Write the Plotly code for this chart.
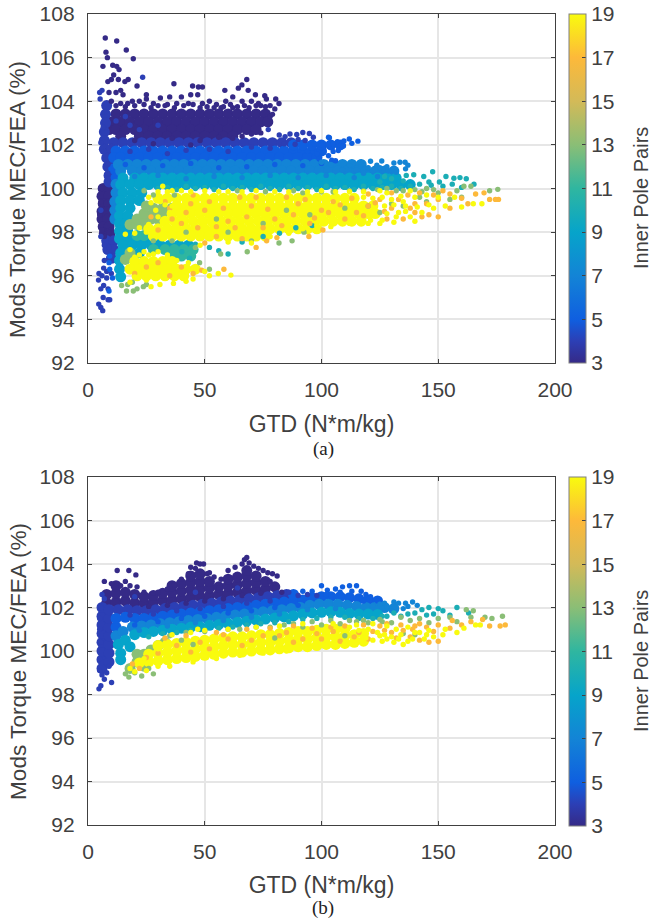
import plotly.graph_objects as go

POLE_TICKS = [3, 5, 7, 9, 11, 13, 15, 17, 19]
X_TICKS = [0, 50, 100, 150, 200]
Y_TICKS = [92, 94, 96, 98, 100, 102, 104, 106, 108]

# ---------- panel (a): dense body of each pole-pair band, (y, [x...]) rows
A3_BODY = [(103.42,[12,16,20,24,28,32,36,40,44,48,52,56,60,64,68,72,76]),(103.05,[10,14,18,22,26,30,34,38,42,46,50,54,58,62,66,70,74,77]),
 (102.7,[9,12,16,20,24,28,32,36,40,44,48,52,56,60,64,68,72]),(102.4,[14,22,26,30,34,38,42,46,50,54,58,62]),
 (100.0,[6.5,9]),(99.65,[6,9]),(99.3,[6.5,9]),(98.95,[6,8.5]),(98.6,[6,8.5]),(98.25,[6.5,9]),(97.95,[7,9.5])]
A4_BODY = [(102.1,[11,15,19,23,27,31,35,39,43,47,51,55,59,63,67,71,75,79,83,87]),(103.8,[8]),(103.4,[7.5]),(103,[7.5]),(102.6,[7]),(102.2,[7]),(101.8,[7,10]),
 (101.4,[8,11]),(101,[8.5,11]),(100.6,[9,11.5]),(100.3,[9,12]),(97.6,[8,11]),(97.2,[8.5,11]),(96.8,[10])]
A5_BODY = [(101.72,[12,16,20,24,28,32,36,40,44,48,52,56,60,64,68,72,76,80,84,88,92,96,100]),(101.42,[11,14,18,22,26,30,34,38,42,46,50,54,58,62,66,70,74,78,82,86,90,94,98]),
 (102.0,[88,92,96,100,104,108]),(100.9,[11]),(100.5,[12])]
A7_BODY = [(101.1,[13,17,21,25,29,33,37,41,45,49,53,57,61,65,69,73,77,81,85,89,93,97,101,105,109,113,117]),
 (100.8,[14,19,23,27,31,35,39,43,47,51,55,59,63,67,71,75,79,83,87,91,95,99,103,107,111,115,119,123,127,131]),(100.2,[12]),(99.8,[12]),(99.4,[11.5]),(99,[11.5]),(98.6,[11.5])]
A9_BODY = [(100.48,[15,20,24,28,32,36,40,44,48,52,56,60,64,68,72,76,80,84,88,92,96,100,104,108,112,116,120,124,128,132]),
 (100.18,[14,18,22,26,30,34,38,42,46,50,54,58,62,66,70,74,78,82,86,90,94,98,102,106,110,114,118,122,126,130,134,138]),
 (99.8,[15,19,23]),(99.45,[14,18,22]),(99.1,[14,18]),(98.75,[13.5,17]),(98.4,[13.5,16]),(98.05,[13.5,17]),(97.7,[13.5,17,21,25,29]),(97.4,[15,19,23,27,31,35,39,43]),(97.05,[14,18,22]),(96.7,[13.5]),(96.3,[13.5]),(95.95,[14])]
A11_BODY = [(97.2,[28,33,37,41,45]),(97.85,[21,24]),(96.9,[36,40,44])]
A13_BODY = [(98.35,[18,21,24]),(98.6,[21,24,27,30]),(98.85,[24,28,32]),(99.1,[28,32,36]),(99.2,[25]),(96.75,[16]),(97.05,[18])]
A19_BODY = [(99.55,[30,34,38,42,46,50,54,58,62,66,70,74,78,82,86,90,94,98,102,106,110,114]),
 (99.2,[38,42,46,50,54,58,62,66,70,74,78,82,86,90,94,98,102,106,110,114,118,122]),
 (98.85,[36,40,44,48,52,56,60,64,68,72,76,80,84,88,92,96,100,104,108,112,116,120,123]),
 (98.5,[33,37,41,45,49,53,57,61,65,69,73,77,81,85,89,93,97,101,105,109,113,117]),
 (98.15,[26,30,34,38,42,46,50,54,58,62,66,70,74,78,82,86,90,94,98]),
 (97.82,[28,32,36,40,44,48,52,56,60,64,68,72,76]),(96.65,[20,24,28,32,36]),(96.3,[18,22,26,30,34,38,42,46]),(96.0,[21,25,29,33,37,41])]

# ---------- panel (a): individually read dots, (x, y)
A3_DOTS = [(7.4,106.9),(12.3,106.76),(16.4,106.35),(19.4,105.95),(7.7,106.25),(8.3,106.0),(6.4,105.6),(10.6,105.65),(12.3,105.6),(13.3,105.45),
 (21,104.7),(17.2,105),(15.8,104.9),(36.8,104.8),(44.8,104.7),(47.3,104.65),(49,104.65),(68,105),(65.9,104.75),(64.4,104.6),(68.6,104.5),(58.6,104.5),
 (71.7,104.3),(75.7,104.25),(80.4,104.1),(81.8,103.9),(80,103.65),(78,103.3),(76.4,104.1),(74,103.8),(70,104),(66,104),(62,104.2),(59,104),(55,103.85),(52,104),
 (47,104.3),(44,104.3),(40,104.2),(35,104.2),(31,104.15),(25,104.3),(25,104.1),(22,104),(19,104),(17,103.9),(28,103.9),(33,103.8),(38,103.9),(43,103.9),(49,103.9),
 (14,104.5),(13,105),(11,105.2),(10,105),(8.5,104.9),(12,104.4),(15,104.3),(9,104.4),(14,103.9),(10,104),(72,103.8),(78,103.8),(62,103.7),(67,103.8),(57,103.7),
 (6,98.1),(5,98.8),(5.5,99.4),(6,100),(7,97.8),(9,98),
 (12,103.8),(16,103.75),(20,103.8),(24,103.85),(27,103.7),(30,103.8),(34,103.85),(37,103.7),(41,103.8),(45,103.85),(48,103.7),(51,103.75),(54,103.7),(58,103.75),(61,103.85),(64,103.75),(69,103.7),(73,103.9),(76,103.75),(79,103.4),
 (20,102.2),(28,102.05),(36,102.3),(44,102),(48,102.2),(56,102.35),(62,102.3),(66,102.4),(70,102.5),(74,102.55)]
A4_DOTS = [(5,104.4),(6,104.5),(5.2,104.1),(7,103.5),(6.5,102.8),(5.5,102.1),(7,101.7),(8.5,101.1),(8.5,100.7),(5.5,99),(5.5,97.8),(7,97.4),(9,97.3),(7,96.7),
 (77.2,102.7),(81.9,102.45),(84.4,102.38),(86.5,102.5),(89.4,102.48),(92,102.57),(94.8,102.52),(96.5,102.35),(93,102.2),(88.7,102.03),(84,102.05),(90,102.25),
 (4.5,95.8),(6.7,95.55),(5.5,95.4),(8.6,95.4),(9.3,94.9),(8.6,94.9),(6.5,95),(4.6,94.7),(6.3,94.4),(5.5,94.55),(4.7,96.1),(6.7,96.35),(8,96.2),(10,96.1),(8,95.9),(6,96.0),(23.4,105.1),
 (16,103.3),(22,102.7),(30,102.9),(12,103.1),(18,102.9),(18,101.7),(26,101.8),(34,101.6),(42,101.75),(52,101.8),(60,101.7),(70,101.9),(78,101.85)]
A5_DOTS = [(103,102.35),(103.4,102.33),(111.9,102.27),(115.6,102.17),(113,102.07),(109.6,102.18),(106.8,102.15),(109.4,101.95),(107.2,101.74),(105,101.7),(104.4,101.3),
 (106,101.27),(100,101.15),(100,102),(97,102.05),(103,102),(105,102.05),(101,101.65),(98,101.6),(94,101.7),(103,101.5),(99,101.35),(9.3,96.9),(9.3,96.3),(9,96.6),(10.5,95.9),(9,95.3),
 (16,101.1),(24,100.95),(32,101.05),(44,101.15),(56,100.95),(68,101),(80,101.1),(92,101.05)]
A7_DOTS = [(116.8,101.2),(125.8,101.26),(131,101.17),(133.6,101.2),(135.8,101.2),(137,101.07),(123.7,101.07),(128.7,100.8),(132,100.75),(120,100.95),(112,101.05),(115,100.85),
 (125,100.95),(128,101),(121,101.25),(118,100.7),(109,100.85),(104,101.1),(100,101.2),(136,100.9),
 (20,100.55),(30,100.6),(42,100.45),(54,100.55),(66,100.5),(78,100.6),(90,100.5),(102,100.6),(114,100.5),(124,100.55)]
A10_DOTS = [(136.3,100.6),(139.5,100.63),(147.6,100.77),(143.8,100.55),(153.3,100.55),(156.7,100.47),(159.3,100.5),(165.3,100.2),(150.5,100.3),(156,100.2),(146,100.3),(142,100.2),
 (135,100.35),(130,100.45),(127,100.55),(147,100.15),(152,100.1),(162,100.45),(160,100.05),(125,100.3),(60,97),(56,97.15),(52,97.3),(46,97.45),(43.5,96.8),(40.2,97.1),(75,97.8),(82,97.95),(66,97.55),(96,98.3),(89,98.2),
 (30,100),(34,100.05),(38,99.95),(42,100.1),(46,100),(50,100.05),(54,99.95),(58,100.1),(62,100),(66,100.05),(70,99.95),(74,100.1),(78,100),(82,99.95),(86,100.1),(90,100),(94,100.05),(98,99.95),(102,100.1),(106,100),(110,100.05),(114,99.95),(118,100.1),(122,100),(126,100.05),(130,100.1),(134,100),(138,100.1)]
A13_DOTS = [(175.5,99.96),(172,99.9),(161,100.1),(164,100.1),(158,99.9),(145,100),(140,99.95),(150,99.8),(135,99.9),(128,100),(118,99.9),(105,99.85),(92,99.8),(155,99.5),(160,99.6),(130,99.3),(145,99.4),(120,99.2),
 (68.2,97.1),(81.8,97.5),(87.4,97.6),(92.5,98),(56.8,97),(52,96.3),(47.8,96.6),(23.7,95.5),(19.4,95.3),(21,95.4),(25,95.6),(16.5,95.3),(14.4,95.55),(17,95.6),(19,95.7),(28,97.6),(36,97.6),(46,97.3),(60,98),(75,98.4),(95,98.8),(110,99.1),(70,97.6),(42,98),(85,99),(55,98.6),(37,99.7),(24,99.9),(28,99.7),
 (124,99.95),(112,99.9),(100,99.85),(88,99.9),(76,99.85),(64,99.9),(132,99.9),(143,99.85),(148,99.95),(125,98.9),(135,99.2),(142,99.6)]
A17_DOTS = [(175.8,99.5),(174.5,99.5),(172,99.5),(169.6,99.8),(166,99.75),(162.7,99.3),(160,99.55),(155,99.75),(152,99.9),(150,99.5),(148,99.7),(142,99.8),(137,99.7),(130,99.8),(120,99.75),(150,98.7),(146,98.8),(140,98.9),(135,98.6),(128,98.6),
 (58.2,96.3),(48.7,96.25),(72,97.3),(76.5,97.6),(80.9,97.75),(94.6,97.8),(100.6,98.1),(66,97.7),(50,97.5),(100,99),(90,99.3),(80,98.6),(70,99.2),(60,98.5),(50,99),(40,98.4),(30,98.1),(110,98.6),(120,99.2),(95,98.4),(85,99.6),(65,99.6),(45,99.7),(35,99.1),(25,96.4),(30,96.6),(35,96),(40,96.4),(20,96.1),(45,96.1),(105,99.4),(75,98.2),(55,97.8),(140,99.3),(130,99.1),(115,98.9),(125,99.5),(145,99.3),(155,99.1),
 (33,99.4),(42,98.9),(47,98.2),(52,99.4),(58,99.1),(63,98.2),(68,98.7),(72,99.6),(77,99.05),(83,98.3),(88,98.8),(93,99.5),(97,98.65),(103,98.9),(108,99.25),(113,99.55),(118,98.75),(123,99.35),(127,98.95),(133,99.5),(138,99.1),(143,98.7),(36,98.6),(27,98.7),(44,99.3),(55,98.25)]
A19_DOTS = [(168.7,99.3),(165,99.3),(157,99.6),(153,99.2),(148,99.1),(143,98.9),(140,98.5),(136,98.95),(132,98.7),(160,99.15),(150,99.6),(145,99.7),(140,99.6),(135,99.4),(138,99.9),(128,99.8),(125,99.9),(112,99.85),(100,99.9),(60,99.85),(40,99.9),(32,100.1),(30,99.85),(36,99.9),(26,99.6),
 (61.2,96.03),(55.8,96.1),(52,96),(45,95.85),(42,95.75),(36.6,95.65),(30.8,95.6),(27,95.5),(50,96.2),(25,95.8),(20,95.95),(18,95.7),(43,96.6),(38,96.7),(34,96.85),(18,97.2),(24,97.1),(28,97.0),(86,97.95),(92,98.15),(98,98.3),(104,98.25),(112,98.4),(120,98.4),(125,98.4),(78,97.8),(70,97.5),(60,97.55),(48,97.4),(20,97.95),(16,97.9),
 (118,99.6),(122,99.55),(126,99.6),(130,99.5),(134,99.65),(127,99.2),(131,99.25),(136,99.2),(141,99.15),(146,99.25),(128,98.85),(133,98.9),(138,98.7),(121,98.55),(126,98.55),(131,98.45),(34,99.85),(44,99.85),(50,99.9),(56,99.85),(66,99.85),(72,99.9),(80,99.85),(86,99.85),(94,99.85),(106,99.85),(118,99.85),
 (22,98.2),(26,98.35),(30,98.7),(25,98),(29,99),(35,98.9),(33,99.25),(31,99.4),(27,99.35),(36,99.2),(32,98.4),(22,96.95),(26,96.95),(30,97.1),(20,96.85),(34,96.95)]

# ---------- panel (b): dense body, (x, [y...]) columns
B3_BODY = [(8,[102.2,102.6]),(12,[102.25,102.65,103]),(16,[102.3,102.7]),(20,[102.2,102.6]),(24,[102.2,102.5]),(28,[102.25,102.55]),(32,[102.3,102.65]),(36,[102.35,102.7,103]),(40,[102.4,102.75,103.1]),
 (44,[102.45,102.8,103.15,103.45]),(48,[102.5,102.85,103.2,103.55]),(52,[102.55,102.9,103.2]),(56,[102.6,102.95]),(60,[102.65,103,103.3]),(64,[102.7,103.05,103.4]),(68,[102.75,103.1,103.45,103.7]),(72,[102.8,103.15,103.45]),(76,[102.85,103.2]),(80,[102.95])]
B4_BODY = [(6,[99.2,99.6,100,100.4,100.8,101.2,101.6,102]),(9,[99.5,99.9,100.3,100.7,101.1,101.5,101.9]),(13,[101.9]),(17,[101.9]),(21,[101.85]),(25,[101.85]),(29,[101.9]),(33,[101.95]),(37,[102]),(41,[102.05]),(45,[102.1]),
 (49,[102.15]),(53,[102.2]),(57,[102.25]),(61,[102.3]),(65,[102.35]),(69,[102.4]),(73,[102.45]),(77,[102.5]),(81,[102.55]),(85,[102.6])]
B5_BODY = [(12,[101.1,101.5]),(16,[101.55]),(20,[101.5]),(24,[101.5]),(28,[101.55]),(32,[101.6]),(36,[101.65]),(40,[101.7]),(44,[101.75]),(48,[101.8]),(52,[101.85]),(56,[101.9]),(60,[101.95]),(64,[102]),(68,[102.05]),(72,[102.1]),(76,[102.15]),
 (80,[102.2]),(84,[102.25]),(88,[102.3,102.6]),(92,[102.35]),(96,[102.45]),(100,[102.5]),(104,[102.5]),(108,[102.5]),(112,[102.45]),(116,[102.4]),(120,[102.35]),(124,[102.3])]
B7_BODY = [(12,[100.7]),(15,[100.9]),(19,[101.1]),(23,[101.15]),(27,[101.2]),(31,[101.25]),(35,[101.3]),(39,[101.35]),(43,[101.4]),(47,[101.45]),(51,[101.5]),(55,[101.55]),(59,[101.6]),(63,[101.65]),(67,[101.7]),(71,[101.75]),(75,[101.8]),(79,[101.85]),
 (83,[101.9]),(87,[101.95]),(91,[102]),(95,[102.1]),(99,[102.15]),(103,[102.15]),(107,[102.15]),(111,[102.1]),(115,[102.05]),(119,[102]),(123,[102]),(127,[102]),(131,[101.95])]
B9_BODY = [(13,[100.3]),(14,[99.9,99.6]),(16,[100.5]),(18,[100.2]),(20,[100.75]),(24,[100.85]),(28,[100.9]),(32,[100.95]),(36,[101]),(40,[101.05]),(44,[101.1]),(48,[101.12]),(52,[101.18]),(56,[101.22]),(60,[101.27]),(64,[101.32]),(68,[101.37]),(72,[101.42]),(76,[101.47]),
 (80,[101.52]),(84,[101.57]),(88,[101.62]),(92,[101.7]),(96,[101.75]),(100,[101.78]),(104,[101.8]),(108,[101.78]),(112,[101.72]),(116,[101.7]),(120,[101.7]),(124,[101.68])]
B13_BODY = [(18,[99.2]),(21,[99.5,99.85]),(24,[99.3,99.85]),(27,[100.05]),(30,[100.25]),(33,[100.4])]
B19_BODY = [(22,[99.45]),(26,[99.5,99.85]),(30,[99.55,99.9,100.25]),(34,[99.6,99.95,100.3]),(38,[99.65,100,100.35]),(42,[99.7,100.05,100.4]),(46,[99.75,100.1,100.45]),(50,[99.8,100.15,100.5]),(54,[99.85,100.2,100.55]),
 (58,[99.9,100.25,100.6]),(62,[99.95,100.3,100.65]),(66,[99.95,100.3,100.65]),(70,[100,100.35,100.7]),(74,[100.05,100.4,100.75]),(78,[100.05,100.4,100.75]),(82,[100.1,100.45,100.8]),(86,[100.15,100.5,100.85]),(90,[100.2,100.55,100.9]),
 (94,[100.2,100.55,100.9]),(98,[100.25,100.6,100.95]),(102,[100.3,100.65,101]),(106,[100.3,100.65,101]),(110,[100.35,100.7,101]),(114,[100.4,100.75]),(118,[100.45,100.8])]

# ---------- panel (b): individually read dots, (x, y)
B3_DOTS = [(7,103.2),(10,103.1),(12.5,103.7),(17.5,103.7),(20.5,103.5),(14,103),(16,103.2),(18,103),(21,102.95),(24,102.7),(28,102.65),(30,102.7),(34,102.85),(37,103.05),(40,103.3),(43,103.55),(44,103.85),(46,103.8),(46.5,104.05),(48,104),(49.5,104),(51,103.55),(54,103.4),(57,103.3),(60,103.7),(63,103.85),(66,104),(67,104.2),(68,104.3),(69,104.05),(71,103.9),(73,103.8),(75,103.7),(77,103.6),(79,103.55),(81,103.45),(78,103.2),(80,102.9),(83,102.7),(52,103.6),(56,102.9),
 (26,102.05),(34,102.1),(42,102.2),(50,102.3),(58,102.4),(66,102.55),(74,102.65)]
B4_DOTS = [(4.7,98.26),(5.5,98.4),(7,98.7),(10.1,98.55),(5,99.1),(6,98.9),(8,99),(9,99.3),(5,99.65),(5.5,100.4),(5,101),(5,101.5),(5.5,102),(6,102.6),(7,102.4),(86,102.7),(90,102.55),(94,102.6),(98,102.55),
 (18,101.65),(28,101.7),(38,101.85),(48,101.95),(58,102.05),(68,102.2),(78,102.3),(20,102.5),(46,102.7),(64,102.9)]
B5_DOTS = [(102.5,102.8),(106,102.85),(100,103),(109,102.95),(112,103),(115,103),(113,102.75),(117,102.75),(119,102.6),(121,102.5),(118,102.3),(124,102.3),(108,102.7),(104,102.5),(96,102.75),(92,102.75),(102,102.6),
 (20,101.2),(30,101.35),(40,101.5),(50,101.6),(60,101.75),(70,101.85),(80,102),(90,102.1)]
B7_DOTS = [(127,102.2),(131,102.25),(133,102.2),(136,102.2),(139,102.25),(141,102.1),(125,102.15),(135,101.95),(128,102.05),(122,102.1),(130,101.85),(137,102.05),
 (22,100.95),(34,101.15),(46,101.3),(58,101.4),(70,101.55),(82,101.7),(94,101.9),(106,101.95)]
B10_DOTS = [(143,101.9),(146,102),(150,101.95),(155,101.65),(158,102),(163,101.75),(152,101.85),(148,101.7),(140,101.75),(145,101.65),(137,101.7),(131,101.75),(126,101.6),
 (26,100.65),(32,100.8),(38,100.85),(44,100.95),(50,101),(56,101.05),(62,101.1),(68,101.2),(74,101.25),(80,101.3),(86,101.35),(92,101.45),(98,101.5),(104,101.55),(110,101.55),(116,101.5),(122,101.5),(128,101.6),(134,101.6)]
B13_DOTS = [(170,101.55),(177.5,101.6),(173,101.5),(165,101.85),(162,101.9),(164,101.55),(158,101.35),(155,101.55),(150,101.5),(146,101.3),(142,101.5),(138,101.4),(134,101.55),(130,101.3),(125,101.45),(120,101.3),(115,101.35),(108,101.25),(100,101.2),(92,101.1),(84,101.2),(140,100.75),(135,100.8),(60,101),(40,100.5),(26,99.2),(20,99),(17.5,98.8),(23,98.85),(28,98.95),(16,98.95),(45,100.3),(80,100.6),(110,100.7),
 (35,100.7),(42,100.85),(50,100.9),(65,101),(72,101.1),(78,101.1),(88,101.25),(96,101.35),(104,101.4),(112,101.4),(118,101.4),(126,101.35)]
B17_DOTS = [(178.7,101.2),(176.5,101.15),(172,101.15),(169,101.45),(164,101.35),(160,101.2),(156,101.4),(155,101.05),(150,101.2),(148,100.9),(145,101.1),(142,101.25),(139,101),(135,100.95),(130,100.85),(125,101.15),(118,101.2),(110,101.15),(104,101.1),(96,101.05),(88,101.15),(78,101.05),(68,101),(55,100.85),
 (150,100.45),(146,100.4),(142,100.5),(138,100.65),(132,100.6),(127,100.95),(120,100.55),(114,100.65),(100,100.55),(88,100.4),(75,100.7),(60,100.55),(48,100.4),(38,100.25),(30,99.9),(22,99.2),(19,99.4),(25,99.7),(33,100.6),(42,100.7),(66,100.25),(85,100.85),(105,100.9),(92,100.55),
 (128,101.25),(134,101.2),(140,101.15),(122,100.9),(116,100.85),(108,100.45),(82,100.7),(52,100.1),(44,99.95),(70,100.5),(98,100.8),(58,100.75)]
B19_DOTS = [(168,101.2),(166,101.2),(161,101.05),(158,100.85),(153,101),(148,100.65),(152,100.75),(145,100.75),(142,100.85),(139,100.55),(135,100.3),(130,100.65),(128,100.55),(125,100.7),(122,100.5),(116,100.5),(110,100.35),(104,100.3),(95,100.15),(85,100),(75,99.9),(65,99.8),(55,99.65),(45,99.5),(35,99.3),(30,99.3),(25,99.1),(20,99.05),(18,99.2),(24,99.65),(30,100.1),(36,100.75),(44,100.85),(47,101.0),(50,100.95),(60,101),(72,101.1),(82,101.15),(92,101.25),(105,101.25),(115,101.2),(132,101),(128,101.15),(122,101.25),(137,101.1),(146,100.95),
 (120,101),(124,100.85),(127,100.75),(131,100.4),(134,100.75),(137,100.45),(140,100.85),(144,100.55),(116,100.95),(112,101.1),(133,100.55),(126,100.45),(119,100.6)]


def rows(table):
    return [(x, y) for y, xs in table for x in xs]


def cols(table):
    return [(x, y) for x, ys in table for y in ys]


A_BODY = [(3, rows(A3_BODY)), (4, rows(A4_BODY)), (5, rows(A5_BODY)), (7, rows(A7_BODY)), (9, rows(A9_BODY)),
          (11, rows(A11_BODY)), (13, rows(A13_BODY)), (19, rows(A19_BODY))]
A_DOTS = [(3, A3_DOTS), (4, A4_DOTS), (5, A5_DOTS), (7, A7_DOTS), (10, A10_DOTS), (13, A13_DOTS), (17, A17_DOTS), (19, A19_DOTS)]
B_BODY = [(3, cols(B3_BODY)), (4, cols(B4_BODY)), (5, cols(B5_BODY)), (7, cols(B7_BODY)), (9, cols(B9_BODY)),
          (13, cols(B13_BODY)), (19, cols(B19_BODY))]
B_DOTS = [(3, B3_DOTS), (4, B4_DOTS), (5, B5_DOTS), (7, B7_DOTS), (10, B10_DOTS), (13, B13_DOTS), (17, B17_DOTS), (19, B19_DOTS)]

W, H = 653, 923
LEFT, RIGHT, TOP, BOTTOM = 88, 555, 14, 825
PANELS = [(14, 363), (477, 825)]
BAR_LEFT = 569
TEXT = "#404040"
SCALE = [[0, "#352a87"], [0.0625, "#2c3fb5"], [0.125, "#0f5fe0"], [0.25, "#1384d6"], [0.375, "#06a4ca"], [0.5, "#2fb6a0"],
         [0.625, "#8abe76"], [0.75, "#d3ba58"], [0.875, "#fdb93a"], [1, "#f9fb0e"]]
FONT = "Liberation Sans"
PW, PH = RIGHT - LEFT, BOTTOM - TOP

fig = go.Figure()


def add(groups, size, axis_suffix):
    xs, ys, cs = [], [], []
    for c, pts in groups:
        for x, y in pts:
            xs.append(x)
            ys.append(y)
            cs.append(c)
    fig.add_trace(go.Scatter(x=xs, y=ys, mode="markers", showlegend=False, hoverinfo="skip",
                             xaxis="x" + axis_suffix, yaxis="y" + axis_suffix,
                             marker=dict(size=size, color=cs, coloraxis="coloraxis" + axis_suffix, line=dict(width=0))))


add(A_BODY, 11, "")
add(A_DOTS, 5.4, "")
add(B_BODY, 11, "2")
add(B_DOTS, 5.4, "2")


def x_axis(anchor, standoff):
    return dict(domain=[0, 1], range=[0, 200], tickvals=X_TICKS, anchor=anchor, automargin=False, showgrid=True, gridcolor="#e6e6e6", gridwidth=1.5,
                zeroline=False, showline=True, linecolor=TEXT, linewidth=1.3, mirror="ticks", ticks="inside", ticklen=4, tickcolor=TEXT,
                tickfont=dict(family=FONT, size=21, color=TEXT), ticklabelstandoff=8,
                title=dict(text="GTD (N*m/kg)", font=dict(family=FONT, size=23, color=TEXT), standoff=standoff))


def y_axis(anchor, top, bottom):
    return dict(domain=[(BOTTOM - bottom) / PH, (BOTTOM - top) / PH], range=[92, 108], tickvals=Y_TICKS, anchor=anchor, automargin=False, showgrid=True, gridcolor="#e6e6e6", gridwidth=1.5,
                zeroline=False, showline=True, linecolor=TEXT, linewidth=1.3, mirror="ticks", ticks="inside", ticklen=4, tickcolor=TEXT,
                tickfont=dict(family=FONT, size=21, color=TEXT), ticklabelstandoff=8)


def color_axis(top):
    return dict(cmin=3, cmax=19, colorscale=SCALE,
                colorbar=dict(x=(BAR_LEFT - LEFT) / PW, xanchor="left", xpad=0, ypad=0, y=(BOTTOM - top) / PH, yanchor="top", lenmode="pixels", len=349,
                              thicknessmode="pixels", thickness=17, outlinecolor="#808080", outlinewidth=1, tickvals=POLE_TICKS,
                              ticks="inside", ticklen=4, tickcolor=TEXT, tickfont=dict(family=FONT, size=21, color=TEXT)))


def label(text, px, py, size, family=FONT, color=TEXT, angle=0):
    return dict(text=text, x=(px - LEFT) / PW, y=(BOTTOM - py) / PH, xref="paper", yref="paper", showarrow=False, textangle=angle,
                xanchor="center", yanchor="middle", font=dict(family=family, size=size, color=color))


fig.update_layout(
    width=W, height=H, margin=dict(l=LEFT, r=W - RIGHT, t=TOP, b=H - BOTTOM, autoexpand=False), paper_bgcolor="white", plot_bgcolor="white",
    xaxis=x_axis("y", 15), yaxis=y_axis("x", *PANELS[0]), xaxis2=x_axis("y2", 14), yaxis2=y_axis("x2", *PANELS[1]),
    coloraxis=color_axis(PANELS[0][0]), coloraxis2=color_axis(PANELS[1][0]),
    annotations=[
        label("Mods Torque MEC/FEA (%)", 18, 200, 22.6, angle=-90), label("Mods Torque MEC/FEA (%)", 18, 662, 22.6, angle=-90),
        label("Inner Pole Pairs", 641, 198, 20, angle=-90), label("Inner Pole Pairs", 641, 661, 20, angle=-90),
        label("(a)", 323, 449, 19, "Liberation Serif", "#222222"), label("(b)", 323, 908, 19, "Liberation Serif", "#222222"),
    ],
)
fig.write_html("out.html", config=dict(displayModeBar=False), post_script="document.body.style.margin='0';")
